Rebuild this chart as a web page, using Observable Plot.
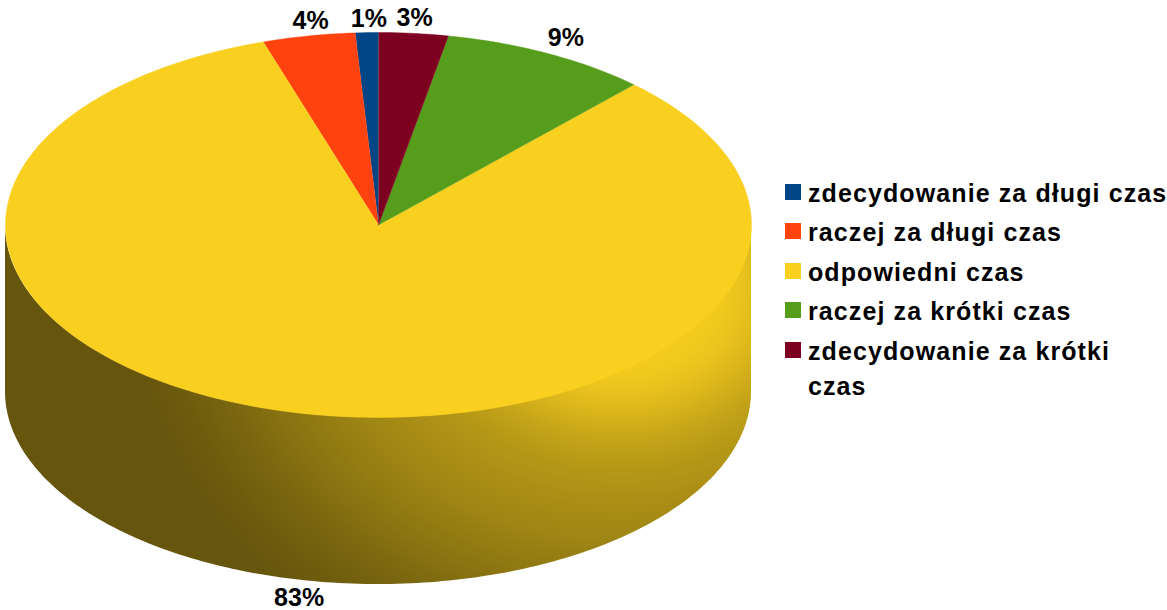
<!DOCTYPE html>
<html lang="pl">
<head>
<meta charset="utf-8">
<script src="https://cdn.jsdelivr.net/npm/d3@7"></script>
<script src="https://cdn.jsdelivr.net/npm/@observablehq/plot@0.6"></script>
<style>
html,body{margin:0;padding:0;background:#fff;}
#chart{position:relative;width:1167px;height:610px;overflow:hidden;}
#chart svg{display:block;position:absolute;left:0;top:0;background:transparent;}
#legend{position:absolute;left:785px;top:174px;width:390px;font:bold 25px "Liberation Sans",Arial,sans-serif;letter-spacing:1.1px;color:#000;}
.row{display:flex;align-items:flex-start;height:39.4px;white-space:nowrap;}
.row .sw{width:16px;height:16px;margin-top:10px;margin-right:7px;flex:none;}
.row .tx{line-height:35px;margin-top:2px;white-space:normal;width:364px;flex:none;}
</style>
</head>
<body>
<div id="chart"><div id="legend"></div></div>
<script>
const categories = ["zdecydowanie za długi czas","raczej za długi czas","odpowiedni czas","raczej za krótki czas","zdecydowanie za krótki czas"];
const values = [1,4,83,9,3];
const valueLabels = ["1%","4%","83%","9%","3%"];
const colors = ["#004586","#ff420e","#f9d01f","#579d1c","#7e0021"];

// layout (pixels)
const W = 1167, H = 610;
const cx = 378, cy = 224.5, rx = 373, ry = 192.5, depth = 167;
const labelNudge = [[2,-14],[2,-15],[2,18],[18,-15],[1,-15]];
const unitDepth = depth / ry;

// slices run counter-clockwise from 12 o'clock, in unit-ellipse coordinates
const total = d3.sum(values);
const pt = deg => { const a = deg * Math.PI / 180; return [-Math.sin(a), Math.cos(a)]; };
const slicePoints = [];
const labelRows = [];
let start = 0;
categories.forEach((name,i) => {
  const sweep = values[i] / total * 360;
  const end = start + sweep;
  slicePoints.push({name, x:0, y:0});
  const n = Math.max(2, Math.ceil(sweep));
  for (let k = 0; k <= n; k++) {
    const [x,y] = pt(start + sweep * k / n);
    slicePoints.push({name, x, y});
  }
  const [mx,my] = pt(start + sweep / 2);
  labelRows.push({label:valueLabels[i], x:mx, y: my < 0 ? my - unitDepth : my, dx:labelNudge[i][0], dy:labelNudge[i][1]});
  start = end;
});

// side wall: the lower half of the rim, extruded downward
const wall = d3.range(0,181).map(d => {
  const a = d * Math.PI / 180;
  return {x:Math.cos(a), y1:-Math.sin(a), y2:-Math.sin(a) - unitDepth};
});

// wall shading: [distance from the light spot, share of the base colour]
const shade = [[0,1],[100,0.97],[125,0.93],[150,0.87],[180,0.79],[215,0.73],[260,0.68],[300,0.64],[363,0.56],[390,0.52],[412,0.49],[450,0.445],[490,0.41],[500,0.41]];
const defs = () => {
  const s = d3.create("svg:defs");
  const g = s.append("radialGradient").attr("id","wallLight").attr("gradientUnits","userSpaceOnUse")
    .attr("cx",0).attr("cy",0).attr("r",500)
    .attr("gradientTransform","translate(620 290) scale(1 0.833)");
  const base = d3.rgb(colors[2]);
  shade.forEach(([d,k]) => g.append("stop").attr("offset",d/500)
    .attr("stop-color",d3.rgb(base.r*k,base.g*k,base.b*k).formatHex()));
  return s.node();
};

const plot = Plot.plot({
  width:W, height:H, margin:0,
  x:{domain:[-cx/rx,(W-cx)/rx], range:[0,W], axis:null},
  y:{domain:[cy/ry,(cy-H)/ry], range:[0,H], axis:null},
  color:{domain:categories, range:colors},
  marks:[
    defs,
    Plot.areaY(wall,{x:"x",y1:"y1",y2:"y2",fill:"url(#wallLight)"}),
    Plot.line(slicePoints,{x:"x",y:"y",z:"name",fill:"name",stroke:"name",strokeWidth:0.4,curve:"linear"}),
    ...labelRows.map(d => Plot.text([d],{x:"x",y:"y",text:"label",dx:d.dx,dy:d.dy,fontSize:25,fontWeight:"bold",fontFamily:"Liberation Sans",fill:"#000"}))
  ]
});
document.getElementById("chart").prepend(plot);

const legend = d3.select("#legend");
categories.forEach((name,i) => {
  const r = legend.append("div").attr("class","row");
  r.append("div").attr("class","sw").style("background",colors[i]);
  r.append("div").attr("class","tx").text(name);
});
</script>
</body>
</html>
